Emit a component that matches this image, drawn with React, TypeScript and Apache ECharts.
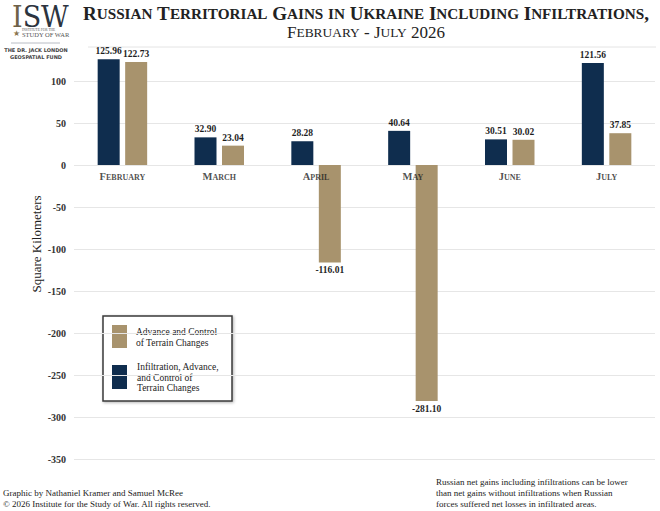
import React, { useEffect, useRef } from "react";
import * as echarts from "echarts";

const months = ["February", "March", "April", "May", "June", "July"];
const infiltration = [125.96, 32.9, 28.28, 40.64, 30.51, 121.56];
const advance = [122.73, 23.04, -116.01, -281.1, 30.02, 37.85];
const yMin = -350;
const yMax = 150;
const yInterval = 50;

const NAVY = "#0f2d4e";
const TAN = "#a8936d";
const SERIF = "'Liberation Serif', 'DejaVu Serif', serif";

function smallCaps(s: string): string {
  let out = "";
  let cur = "";
  let curType = "";
  const flush = () => {
    if (cur) out += `{${curType}|${cur}}`;
    cur = "";
  };
  for (const ch of s) {
    const t = ch >= "a" && ch <= "z" ? "b" : "a";
    if (t !== curType) {
      flush();
      curType = t;
    }
    cur += ch.toUpperCase();
  }
  flush();
  return out;
}

const f = (size: number, weight = "normal", fam = SERIF) => `${weight} ${size}px ${fam}`;

export default function App() {
  const ref = useRef<HTMLDivElement>(null);
  useEffect(() => {
    document.body.style.margin = "0";
    const chart = echarts.init(ref.current!, null, { renderer: "svg" });
    const nLines = Math.round((yMax - yMin) / yInterval) + 1;
    const lineColors = Array.from({ length: nLines }, (_, i) =>
      i === nLines - 1 ? "rgba(0,0,0,0)" : "#e6e6e6"
    );
    const valLabel = (pos: string) => ({
      show: true,
      position: pos,
      distance: 3,
      fontFamily: SERIF,
      fontWeight: "bold",
      fontSize: 9.5,
      color: "#1e1e1e",
      formatter: (p: any) => Number(p.value).toFixed(2),
    });
    chart.setOption({
      animation: false,
      backgroundColor: "#ffffff",
      grid: { left: 74, right: 5, top: 39, bottom: 52 },
      xAxis: {
        type: "category",
        data: months,
        axisLine: { show: false },
        axisTick: { show: false },
        axisLabel: { show: false },
      },
      yAxis: {
        type: "value",
        min: yMin,
        max: yMax,
        interval: yInterval,
        axisLine: { show: false },
        axisTick: { show: false },
        axisLabel: {
          margin: 8,
          fontFamily: SERIF,
          fontWeight: "bold",
          fontSize: 10,
          color: "#333",
          formatter: (v: number) => (v === yMax ? "" : String(v)),
        },
        splitLine: { lineStyle: { color: lineColors, width: 1 } },
      },
      series: [
        {
          name: "Infiltration, Advance, and Control of Terrain Changes",
          type: "bar",
          data: infiltration,
          barWidth: 22,
          barGap: "25%",
          itemStyle: { color: NAVY },
          label: valLabel("top"),
        },
        {
          name: "Advance and Control of Terrain Changes",
          type: "bar",
          data: advance.map((v) => ({
            value: v,
            label: valLabel(v < 0 ? "bottom" : "top"),
          })),
          barWidth: 22,
          itemStyle: { color: TAN },
        },
        {
          name: "month labels",
          type: "scatter",
          z: 10,
          silent: true,
          symbolSize: 0,
          data: months.map((m) => [m, 0]),
          label: {
            show: true,
            position: "bottom",
            distance: 5,
            formatter: (p: any) => smallCaps(p.value[0]),
            rich: {
              a: { fontSize: 10.5, lineHeight: 12, verticalAlign: "bottom", fontFamily: SERIF, fontWeight: "bold", color: "#222" },
              b: { fontSize: 8, lineHeight: 12, verticalAlign: "bottom", fontFamily: SERIF, fontWeight: "bold", color: "#222", padding: [0, 0, 0.5, 0] },
            },
          },
        },
      ],
      graphic: [
        // Axis name
        {
          type: "text",
          x: 36,
          y: 244,
          rotation: Math.PI / 2,
          style: {
            text: "Square Kilometers",
            align: "center",
            verticalAlign: "middle",
            font: f(13),
            fill: "#222",
          },
        },
        // Title
        {
          type: "text",
          x: 366,
          y: 13,
          style: {
            text: smallCaps("Russian Territorial Gains in Ukraine Including Infiltrations,"),
            align: "center",
            verticalAlign: "middle",
            rich: {
              a: { fontSize: 19, fontFamily: SERIF, fontWeight: "bold", fill: "#222" },
              b: { fontSize: 15.2, fontFamily: SERIF, fontWeight: "bold", fill: "#222" },
            },
          },
        },
        {
          type: "text",
          x: 366,
          y: 32,
          style: {
            text: smallCaps("February - July 2026"),
            align: "center",
            verticalAlign: "middle",
            rich: {
              a: { fontSize: 17, fontFamily: SERIF, fill: "#222" },
              b: { fontSize: 13.4, fontFamily: SERIF, fill: "#222" },
            },
          },
        },
        {
          type: "line",
          shape: { x1: 88, y1: 47, x2: 656, y2: 47 },
          style: { stroke: "#e4e4e4", lineWidth: 1 },
        },
        // Logo
        {
          type: "text",
          x: 12,
          y: 17.5,
          scaleX: 0.93,
          style: {
            text: "{i|I}{s|SW}",
            verticalAlign: "middle",
            rich: {
              i: { fontSize: 29, fontFamily: "'DejaVu Serif', serif", fill: "#6e6148" },
              s: { fontSize: 29, fontFamily: "'DejaVu Serif', serif", fill: "#2c3440" },
            },
          },
        },
        {
          type: "text",
          x: 22,
          y: 28,
          style: { text: "INSTITUTE FOR THE", font: f(3.5), fill: "#555" },
        },
        {
          type: "text",
          x: 22,
          y: 31,
          style: { text: "STUDY OF WAR", font: f(6.5), fill: "#555" },
        },
        {
          type: "text",
          x: 13,
          y: 29,
          style: { text: "★", font: f(8, "normal", "'DejaVu Sans', sans-serif"), fill: "#8a7650" },
        },
        {
          type: "line",
          shape: { x1: 11, y1: 43, x2: 60, y2: 43 },
          style: { stroke: "#b8bcc4", lineWidth: 1 },
        },
        {
          type: "text",
          x: 36,
          y: 50,
          style: {
            text: "THE DR. JACK LONDON",
            align: "center",
            verticalAlign: "middle",
            font: f(5, "bold", "'DejaVu Sans', sans-serif"),
            fill: "#444",
          },
        },
        {
          type: "text",
          x: 36,
          y: 57,
          style: {
            text: "GEOSPATIAL FUND",
            align: "center",
            verticalAlign: "middle",
            font: f(5, "bold", "'DejaVu Sans', sans-serif"),
            fill: "#444",
          },
        },
        // Legend
        {
          type: "rect",
          shape: { x: 103, y: 316, width: 129, height: 85 },
          style: {
            fill: "#fff",
            stroke: "#3a3a3a",
            lineWidth: 1.5,
            shadowBlur: 3,
            shadowColor: "rgba(0,0,0,0.3)",
            shadowOffsetX: 1,
            shadowOffsetY: 1,
          },
        },
        {
          type: "rect",
          shape: { x: 112, y: 325, width: 15, height: 23 },
          style: { fill: TAN },
        },
        {
          type: "rect",
          shape: { x: 112, y: 365, width: 15, height: 24 },
          style: { fill: NAVY },
        },
        {
          type: "text",
          x: 136,
          y: 326,
          style: {
            text: "Advance and Control\nof Terrain Changes",
            font: f(9.5),
            lineHeight: 11,
            fill: "#222",
          },
        },
        {
          type: "text",
          x: 137,
          y: 362,
          style: {
            text: "Infiltration, Advance,\nand Control of\nTerrain Changes",
            font: f(9.5),
            lineHeight: 10.5,
            fill: "#222",
          },
        },
        // Footer
        {
          type: "text",
          x: 3,
          y: 488,
          style: {
            text: "Graphic by Nathaniel Kramer and Samuel McRee\n© 2026 Institute for the Study of War. All rights reserved.",
            font: f(9),
            lineHeight: 10.5,
            fill: "#222",
          },
        },
        {
          type: "text",
          x: 436,
          y: 476,
          style: {
            text: "Russian net gains including infiltrations can be lower\nthan net gains without infiltrations when Russian\nforces suffered net losses in infiltrated areas.",
            font: f(9),
            lineHeight: 11,
            fill: "#222",
          },
        },
      ],
    });
    return () => chart.dispose();
  }, []);
  return <div ref={ref} style={{ width: 660, height: 511 }} />;
}
